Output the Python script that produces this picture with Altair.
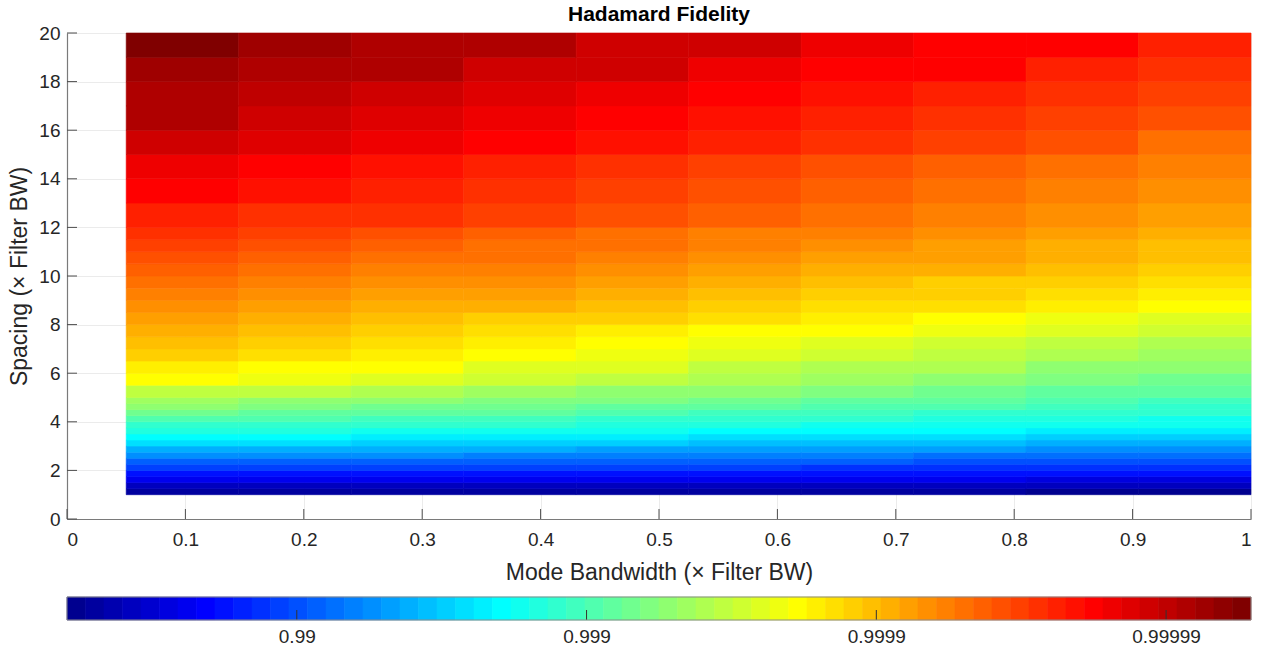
import json
import altair as alt
import pandas as pd

# ---------------- data ----------------
# cell edges of the (Mode bandwidth, Spacing) grid
x_edges = [0.05, 0.145, 0.24, 0.335, 0.43, 0.525, 0.62, 0.715, 0.81, 0.905, 1.0]
y_edges = [1.0, 1.25, 1.5, 1.75, 2.0, 2.25, 2.5, 2.75, 3.0, 3.25, 3.5, 3.75, 4.0,
           4.25, 4.5, 4.75, 5.0, 5.5, 6.0, 6.5, 7.0, 7.5, 8.0, 8.5, 9.0, 9.5,
           10.0, 10.5, 11.0, 11.5, 12.0, 13.0, 14.0, 15.0, 16.0, 17.0, 18.0, 19.0, 20.0]

# -log10(1 - Hadamard fidelity) per cell, rows from Spacing=1 (bottom) to 20 (top)
neg_log10_infidelity = [
    [1.30, 1.30, 1.30, 1.29, 1.29, 1.29, 1.28, 1.28, 1.27, 1.27],
    [1.46, 1.46, 1.45, 1.45, 1.45, 1.44, 1.44, 1.44, 1.43, 1.43],
    [1.62, 1.62, 1.61, 1.61, 1.61, 1.60, 1.60, 1.60, 1.59, 1.59],
    [1.78, 1.78, 1.77, 1.77, 1.77, 1.76, 1.76, 1.76, 1.75, 1.75],
    [1.94, 1.93, 1.93, 1.92, 1.91, 1.91, 1.90, 1.89, 1.88, 1.88],
    [2.10, 2.09, 2.08, 2.07, 2.06, 2.05, 2.04, 2.03, 2.02, 2.01],
    [2.26, 2.25, 2.23, 2.22, 2.20, 2.19, 2.17, 2.16, 2.15, 2.13],
    [2.42, 2.40, 2.38, 2.37, 2.35, 2.33, 2.31, 2.30, 2.28, 2.26],
    [2.58, 2.56, 2.54, 2.51, 2.49, 2.47, 2.45, 2.43, 2.41, 2.39],
    [2.71, 2.69, 2.66, 2.64, 2.62, 2.60, 2.58, 2.56, 2.54, 2.52],
    [2.83, 2.81, 2.79, 2.77, 2.75, 2.73, 2.71, 2.69, 2.66, 2.64],
    [2.93, 2.91, 2.89, 2.87, 2.84, 2.82, 2.80, 2.78, 2.76, 2.74],
    [3.03, 3.00, 2.98, 2.95, 2.93, 2.90, 2.88, 2.85, 2.83, 2.80],
    [3.15, 3.12, 3.09, 3.06, 3.03, 2.99, 2.96, 2.93, 2.90, 2.87],
    [3.25, 3.21, 3.18, 3.14, 3.11, 3.07, 3.04, 3.00, 2.97, 2.93],
    [3.34, 3.31, 3.27, 3.23, 3.19, 3.15, 3.11, 3.07, 3.03, 2.99],
    [3.50, 3.45, 3.40, 3.35, 3.31, 3.26, 3.21, 3.16, 3.11, 3.06],
    [3.70, 3.64, 3.57, 3.51, 3.45, 3.39, 3.33, 3.27, 3.21, 3.15],
    [3.82, 3.76, 3.70, 3.63, 3.57, 3.50, 3.44, 3.38, 3.31, 3.25],
    [3.92, 3.86, 3.79, 3.73, 3.66, 3.60, 3.54, 3.47, 3.41, 3.34],
    [3.98, 3.92, 3.86, 3.80, 3.74, 3.68, 3.62, 3.56, 3.50, 3.44],
    [4.05, 3.99, 3.93, 3.88, 3.82, 3.76, 3.71, 3.65, 3.59, 3.54],
    [4.11, 4.06, 4.00, 3.95, 3.90, 3.84, 3.79, 3.74, 3.68, 3.63],
    [4.17, 4.12, 4.07, 4.02, 3.97, 3.93, 3.88, 3.83, 3.78, 3.73],
    [4.24, 4.19, 4.14, 4.09, 4.04, 3.99, 3.94, 3.89, 3.84, 3.79],
    [4.30, 4.25, 4.20, 4.15, 4.10, 4.05, 4.00, 3.95, 3.90, 3.86],
    [4.37, 4.32, 4.27, 4.22, 4.17, 4.12, 4.07, 4.02, 3.97, 3.92],
    [4.43, 4.38, 4.33, 4.28, 4.23, 4.18, 4.13, 4.08, 4.03, 3.98],
    [4.49, 4.44, 4.39, 4.33, 4.28, 4.23, 4.17, 4.12, 4.07, 4.01],
    [4.56, 4.50, 4.44, 4.39, 4.33, 4.27, 4.22, 4.16, 4.10, 4.05],
    [4.65, 4.59, 4.53, 4.47, 4.41, 4.35, 4.29, 4.23, 4.17, 4.11],
    [4.75, 4.68, 4.62, 4.56, 4.49, 4.43, 4.37, 4.30, 4.24, 4.17],
    [4.84, 4.78, 4.71, 4.64, 4.57, 4.51, 4.44, 4.37, 4.30, 4.24],
    [4.94, 4.87, 4.80, 4.74, 4.67, 4.60, 4.53, 4.47, 4.40, 4.33],
    [5.04, 4.97, 4.90, 4.83, 4.77, 4.70, 4.63, 4.56, 4.50, 4.43],
    [5.10, 5.03, 4.96, 4.90, 4.83, 4.76, 4.69, 4.63, 4.56, 4.49],
    [5.16, 5.10, 5.04, 4.97, 4.91, 4.84, 4.78, 4.72, 4.65, 4.59],
    [5.23, 5.16, 5.10, 5.04, 4.97, 4.91, 4.84, 4.78, 4.72, 4.65],
]

# colour-bar limits (in -log10(1-F)) and its tick labels
cbar_limits = [1.207, 5.293]
cbar_tick_values = [2, 3, 4, 5]
cbar_tick_labels = ["0.99", "0.999", "0.9999", "0.99999"]

x_ticks = [0, 0.1, 0.2, 0.3, 0.4, 0.5, 0.6, 0.7, 0.8, 0.9, 1.0]
y_ticks = [0, 2, 4, 6, 8, 10, 12, 14, 16, 18, 20]

# ---------------- jet(64) colormap ----------------
N_LEVELS = 64


def jet_color(i):
    k = i + 1
    if k <= 24:
        r = 0.0
    elif k <= 40:
        r = (k - 24) / 16
    elif k <= 56:
        r = 1.0
    else:
        r = 1 - (k - 56) / 16
    if k <= 8:
        g = 0.0
    elif k <= 24:
        g = (k - 8) / 16
    elif k <= 40:
        g = 1.0
    elif k <= 56:
        g = 1 - (k - 40) / 16
    else:
        g = 0.0
    if k <= 8:
        b = (k + 8) / 16
    elif k <= 24:
        b = 1.0
    elif k <= 40:
        b = 1 - (k - 24) / 16
    else:
        b = 0.0
    return "#%02x%02x%02x" % (round(r * 255), round(g * 255), round(b * 255))


jet = [jet_color(i) for i in range(N_LEVELS)]

# ---------------- tables ----------------
rows = []
for r in range(len(y_edges) - 1):
    for c in range(len(x_edges) - 1):
        rows.append({
            "x0": x_edges[c], "x1": x_edges[c + 1],
            "y0": y_edges[r], "y1": y_edges[r + 1],
            "u": neg_log10_infidelity[r][c],
        })
heat_df = pd.DataFrame(rows)

step = (cbar_limits[1] - cbar_limits[0]) / N_LEVELS
cbar_df = pd.DataFrame({
    "lo": [cbar_limits[0] + i * step for i in range(N_LEVELS)],
    "hi": [cbar_limits[0] + (i + 1) * step for i in range(N_LEVELS)],
    "mid": [cbar_limits[0] + (i + 0.5) * step for i in range(N_LEVELS)],
})

FONT = "Liberation Sans"
TXT = "#262626"
W, H = 1184, 486
CB_H = 23

color_scale = alt.Scale(type="quantize", domain=cbar_limits, range=jet, nice=False, zero=False)
xscale = alt.Scale(domain=[0, 1], nice=False, zero=False)
yscale = alt.Scale(domain=[0, 20], nice=False, zero=False)

heat = alt.Chart(heat_df).mark_rect(strokeWidth=0.6).encode(
    x=alt.X("x0:Q", scale=xscale,
            axis=alt.Axis(values=x_ticks, format="~g", title="Mode Bandwidth (× Filter BW)",
                          grid=True, ticks=False, tickSize=0, labelPadding=11, titlePadding=12)),
    x2="x1:Q",
    y=alt.Y("y0:Q", scale=yscale,
            axis=alt.Axis(values=y_ticks, format="~g", title="Spacing (× Filter BW)",
                          grid=True, ticks=False, tickSize=0, labelPadding=7, titlePadding=7)),
    y2="y1:Q",
    color=alt.Color("u:Q", scale=color_scale, legend=None),
    stroke=alt.Stroke("u:Q", scale=color_scale, legend=None),
)

xt = alt.Chart(pd.DataFrame({"t": x_ticks})).mark_rule(color="#4d4d4d", strokeWidth=1).encode(
    x=alt.X("t:Q", scale=xscale), y=alt.value(H), y2=alt.value(H - 10))
yt = alt.Chart(pd.DataFrame({"t": y_ticks})).mark_rule(color="#4d4d4d", strokeWidth=1).encode(
    y=alt.Y("t:Q", scale=yscale), x=alt.value(0), x2=alt.value(10))

main = alt.layer(heat, xt, yt).properties(
    width=W, height=H,
    title=alt.TitleParams("Hadamard Fidelity", font=FONT, fontSize=21, fontWeight="bold",
                          color="#000000", anchor="middle", offset=-1),
)

label_expr = f"{json.dumps(cbar_tick_labels)}[indexof({json.dumps(cbar_tick_values)}, datum.value)]"
cbx = alt.Scale(domain=cbar_limits, nice=False, zero=False)
cb_rect = alt.Chart(cbar_df).mark_rect(strokeWidth=0.6).encode(
    x=alt.X("lo:Q", scale=cbx,
            axis=alt.Axis(values=cbar_tick_values, labelExpr=label_expr, title=None,
                          domain=False, ticks=False, tickSize=0, grid=False, labelPadding=7,
                          labelFontSize=19)),
    x2="hi:Q",
    y=alt.value(0), y2=alt.value(CB_H),
    color=alt.Color("mid:Q", scale=color_scale, legend=None),
    stroke=alt.Stroke("mid:Q", scale=color_scale, legend=None),
)
cb_ticks = alt.Chart(pd.DataFrame({"t": cbar_tick_values})).mark_rule(color="#333333", strokeWidth=1).encode(
    x=alt.X("t:Q", scale=cbx), y=alt.value(CB_H), y2=alt.value(CB_H - 10))
cb_border = alt.Chart(pd.DataFrame({"a": [0]})).mark_rect(filled=False, stroke="#8a8a8a", strokeWidth=1).encode(
    x=alt.value(0), x2=alt.value(W), y=alt.value(0), y2=alt.value(CB_H))

cbar = alt.layer(cb_rect, cb_ticks, cb_border).properties(width=W, height=CB_H)

chart = alt.vconcat(main, cbar, spacing=11).properties(
    padding={"left": 8, "top": 3, "right": 4, "bottom": 2}
).configure_view(stroke="transparent").configure_axis(
    labelFont=FONT, labelFontSize=19, labelColor=TXT,
    titleFont=FONT, titleFontSize=23, titleColor=TXT, titleFontWeight="normal",
    domainColor="#7a7a7a", domainWidth=1.2, gridColor="#ebebeb", gridWidth=1,
).configure_concat(spacing=11)

chart.save("out.html", embed_options={"renderer": "svg", "actions": False})
